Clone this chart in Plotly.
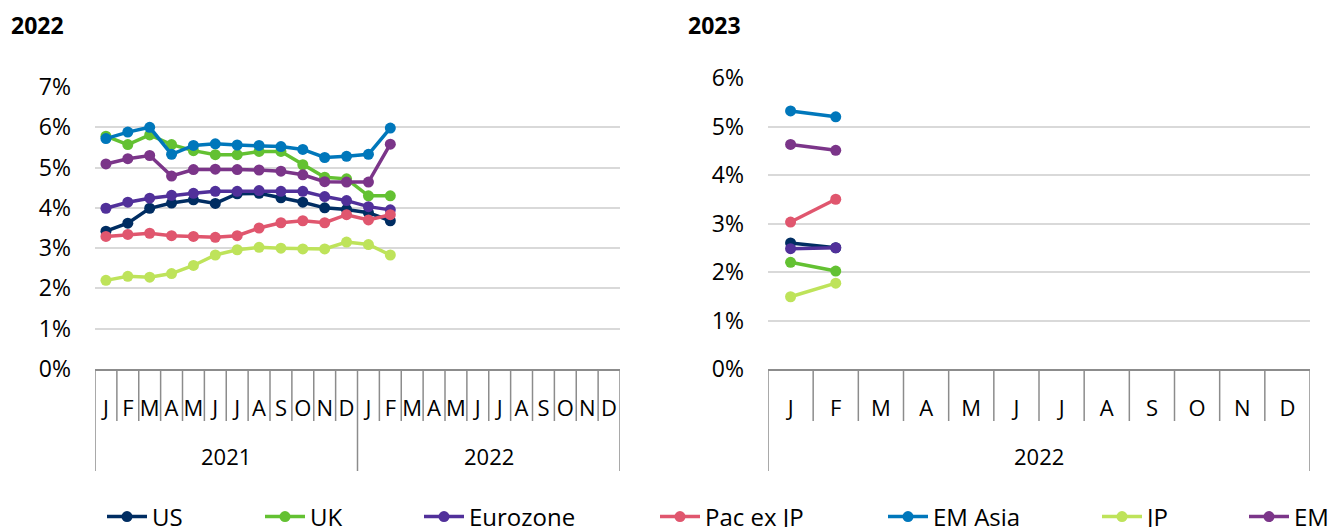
import plotly.graph_objects as go

# ---------------- data ----------------
MONTHS = ["J", "F", "M", "A", "M", "J", "J", "A", "S", "O", "N", "D"]
LEFT_YEARS = ["2021", "2022"]
RIGHT_YEAR = "2022"
LEFT_TITLE = "2022"
RIGHT_TITLE = "2023"
SERIES = ["US", "UK", "Eurozone", "Pac ex JP", "EM Asia", "JP", "EM"]
COLORS = ["#002D62", "#63C132", "#51309A", "#E0566E", "#0077BB", "#BEE35A", "#7B3589"]

# Forecasts for 2022, monthly Jan 2021 .. Feb 2022 (%)
us_2022 = [3.42, 3.62, 3.99, 4.12, 4.20, 4.11, 4.35, 4.36, 4.25, 4.14, 4.00, 3.96, 3.88, 3.68]
uk_2022 = [5.78, 5.57, 5.81, 5.57, 5.42, 5.32, 5.32, 5.40, 5.40, 5.07, 4.76, 4.72, 4.30, 4.30]
ez_2022 = [3.99, 4.14, 4.24, 4.31, 4.36, 4.41, 4.41, 4.43, 4.41, 4.41, 4.28, 4.18, 4.03, 3.95]
pac_2022 = [3.29, 3.34, 3.37, 3.31, 3.29, 3.27, 3.31, 3.50, 3.63, 3.68, 3.63, 3.83, 3.70, 3.83]
emasia_2022 = [5.72, 5.88, 6.00, 5.33, 5.55, 5.59, 5.56, 5.55, 5.52, 5.45, 5.25, 5.28, 5.33, 5.98]
jp_2022 = [2.20, 2.30, 2.28, 2.37, 2.57, 2.83, 2.96, 3.02, 3.00, 2.98, 2.98, 3.15, 3.09, 2.83]
em_2022 = [5.09, 5.22, 5.30, 4.79, 4.95, 4.96, 4.95, 4.94, 4.91, 4.82, 4.65, 4.64, 4.64, 5.58]

# Forecasts for 2023, monthly Jan 2022 .. Feb 2022 (%)
us_2023 = [2.60, 2.50]
uk_2023 = [2.20, 2.02]
ez_2023 = [2.48, 2.50]
pac_2023 = [3.03, 3.50]
emasia_2023 = [5.32, 5.20]
jp_2023 = [1.49, 1.77]
em_2023 = [4.63, 4.51]

LEFT_DATA = [us_2022, uk_2022, ez_2022, pac_2022, emasia_2022, jp_2022, em_2022]
RIGHT_DATA = [us_2023, uk_2023, ez_2023, pac_2023, emasia_2023, jp_2023, em_2023]

# ---------------- layout constants ----------------
W, H = 1333, 527
FONT = "Open Sans"
def px_x(p): return p / W
def px_y(p): return (H - p) / H

L_X0, L_X1 = 95, 620
R_X0, R_X1 = 768, 1310
AX_Y = 369
L_TOP, R_TOP = 87, 78
MONTH_SEP_BOTTOM = 421
YEAR_SEP_BOTTOM = 471
YEAR_LABEL_Y = 456
LEGEND_Y = 517
LEGEND_MARKER_X = [122, 280, 439, 675, 903, 1117, 1264]

GRID = "#D9D9D9"
AXIS = "#8C8C8C"

fig = go.Figure()

for i, name in enumerate(SERIES):
    lg = "legend" if i == 0 else f"legend{i + 1}"
    fig.add_trace(go.Scatter(
        x=list(range(len(LEFT_DATA[i]))), y=LEFT_DATA[i], name=name,
        mode="lines+markers", line=dict(color=COLORS[i], width=3.5),
        marker=dict(color=COLORS[i], size=11), xaxis="x", yaxis="y",
        legend=lg, showlegend=True, hoverinfo="skip"))
for i, name in enumerate(SERIES):
    fig.add_trace(go.Scatter(
        x=list(range(len(RIGHT_DATA[i]))), y=RIGHT_DATA[i], name=name,
        mode="lines+markers", line=dict(color=COLORS[i], width=3.5),
        marker=dict(color=COLORS[i], size=11), xaxis="x2", yaxis="y2",
        showlegend=False, hoverinfo="skip"))

n_left = 12 * len(LEFT_YEARS)
n_right = 12

xcommon = dict(showgrid=False, zeroline=False, showline=True, linecolor=AXIS,
               linewidth=1.5, ticks="", tickfont=dict(family=FONT, size=22, color="#000"),
               ticklabelstandoff=19, fixedrange=True)
ycommon = dict(showgrid=True, gridcolor=GRID, gridwidth=1.5, zeroline=False,
               showline=False, ticks="", ticksuffix="%", dtick=1,
               tickfont=dict(family=FONT, size=23, color="#000"),
               ticklabelstandoff=23, fixedrange=True)

layout = dict(
    width=W, height=H, margin=dict(l=0, r=0, t=0, b=0, autoexpand=False),
    paper_bgcolor="white", plot_bgcolor="white",
    font=dict(family=FONT, color="#000"),
    xaxis=dict(domain=[px_x(L_X0), px_x(L_X1)], range=[-0.5, n_left - 0.5],
               tickvals=list(range(n_left)), ticktext=MONTHS * len(LEFT_YEARS),
               anchor="y", **xcommon),
    yaxis=dict(domain=[px_y(AX_Y), px_y(L_TOP)], range=[0, 7], anchor="x", **ycommon),
    xaxis2=dict(domain=[px_x(R_X0), px_x(R_X1)], range=[-0.5, n_right - 0.5],
                tickvals=list(range(n_right)), ticktext=MONTHS,
                anchor="y2", **xcommon),
    yaxis2=dict(domain=[px_y(AX_Y), px_y(R_TOP)], range=[0, 6], anchor="x2", **ycommon),
    showlegend=True,
)

for i in range(len(SERIES)):
    key = "legend" if i == 0 else f"legend{i + 1}"
    layout[key] = dict(
        x=px_x(LEGEND_MARKER_X[i] - 20), xanchor="left",
        y=px_y(LEGEND_Y), yanchor="middle", orientation="h",
        bgcolor="rgba(0,0,0,0)", borderwidth=0,
        font=dict(family=FONT, size=24, color="#000"),
        itemwidth=40, itemclick=False, itemdoubleclick=False)

fig.update_layout(**layout)

shapes = []
# month separators and outer / year separators
for xa, n in (("x", n_left), ("x2", n_right)):
    for k in range(n + 1):
        long_line = (k % 12 == 0)
        shapes.append(dict(
            type="line", xref=xa, yref="paper", x0=k - 0.5, x1=k - 0.5,
            y0=px_y(AX_Y), y1=px_y(YEAR_SEP_BOTTOM if long_line else MONTH_SEP_BOTTOM),
            line=dict(color=AXIS, width=1.5)))
fig.update_layout(shapes=shapes)

annotations = []
for j, yr in enumerate(LEFT_YEARS):
    annotations.append(dict(text=yr, xref="x", yref="paper", x=12 * j + 5.5,
                            y=px_y(YEAR_LABEL_Y), showarrow=False,
                            font=dict(family=FONT, size=22, color="#000"),
                            xanchor="center", yanchor="middle"))
annotations.append(dict(text=RIGHT_YEAR, xref="x2", yref="paper", x=5.5,
                        y=px_y(YEAR_LABEL_Y), showarrow=False,
                        font=dict(family=FONT, size=22, color="#000"),
                        xanchor="center", yanchor="middle"))
annotations.append(dict(text="<b>" + LEFT_TITLE + "</b>", xref="paper", yref="paper",
                        x=px_x(9), y=px_y(25), showarrow=False, xanchor="left",
                        yanchor="middle", font=dict(family=FONT, size=23, color="#000")))
annotations.append(dict(text="<b>" + RIGHT_TITLE + "</b>", xref="paper", yref="paper",
                        x=px_x(686), y=px_y(25), showarrow=False, xanchor="left",
                        yanchor="middle", font=dict(family=FONT, size=23, color="#000")))
fig.update_layout(annotations=annotations)

fig.write_html("out.html", config={"displayModeBar": False},
               post_script="document.body.style.margin='0';document.body.style.padding='0';")
